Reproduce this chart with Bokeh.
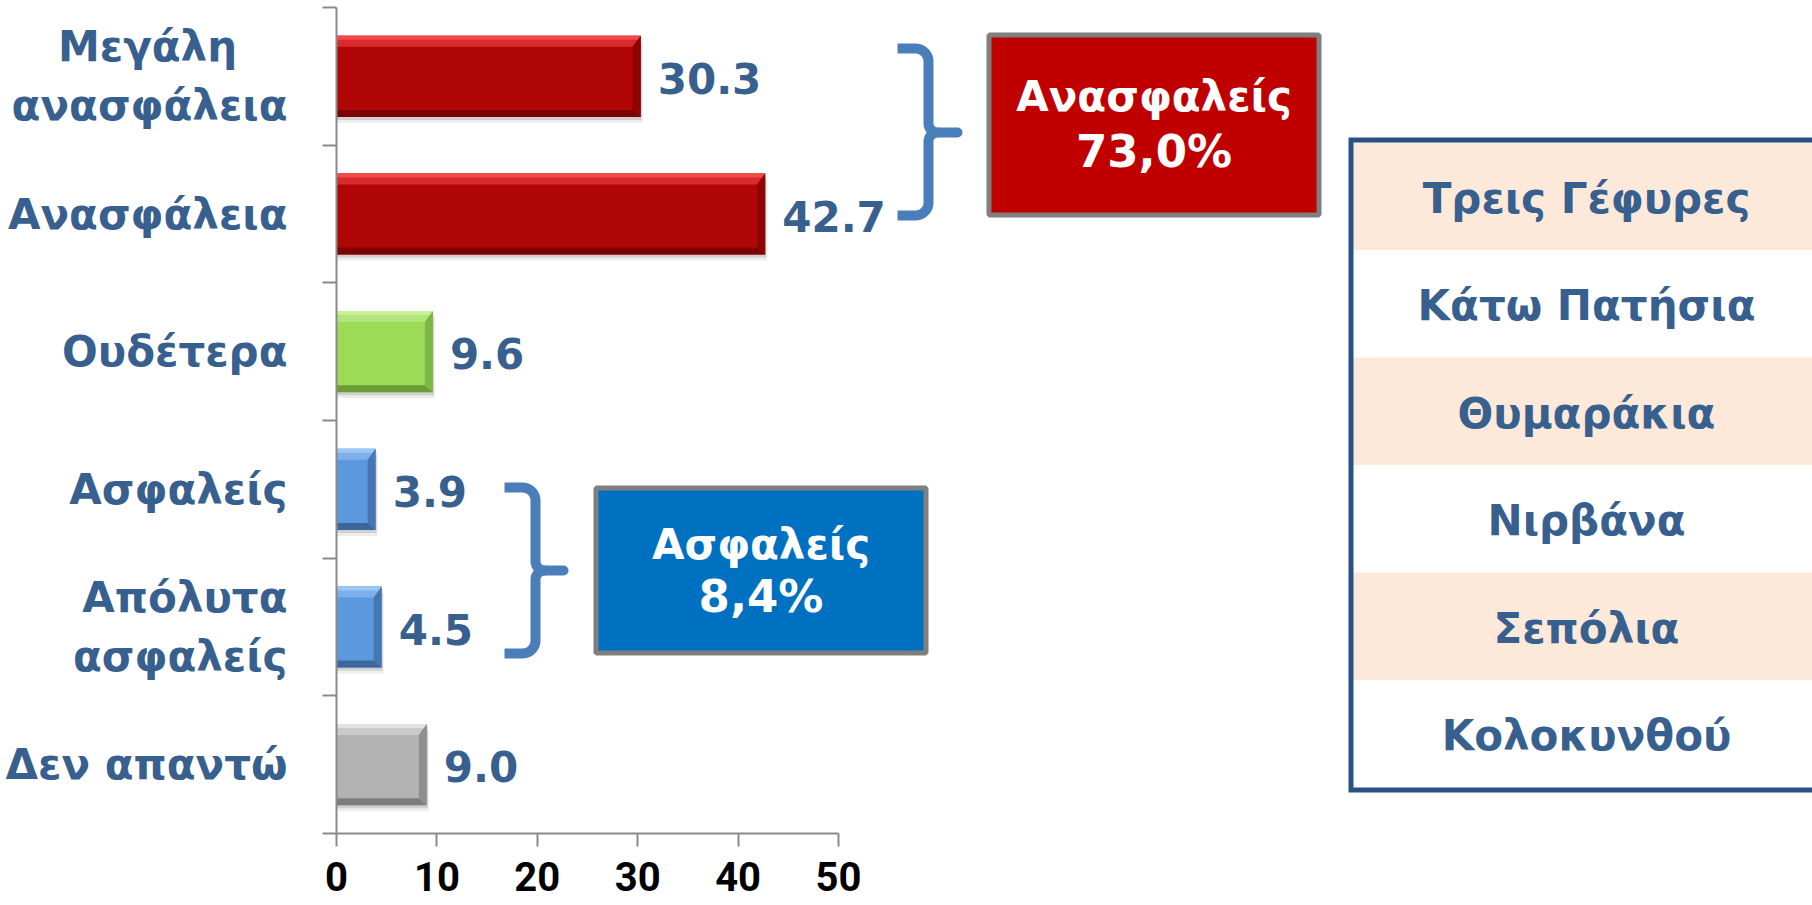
import numpy as np
from bokeh.plotting import figure
from bokeh.models import Range1d, FixedTicker
from bokeh.core.properties import value
from bokeh.embed import file_html
from bokeh.resources import INLINE

# ---------------- data ----------------
categories = ["Μεγάλη\nανασφάλεια", "Ανασφάλεια", "Ουδέτερα", "Ασφαλείς",
              "Απόλυτα\nασφαλείς", "Δεν απαντώ"]
values = [30.3, 42.7, 9.6, 3.9, 4.5, 9.0]
x_ticks = [0, 10, 20, 30, 40, 50]
group_names = ["Ανασφαλείς", "Ασφαλείς"]
group_members = [[0, 1], [3, 4]]
areas = ["Τρεις Γέφυρες", "Κάτω Πατήσια", "Θυμαράκια", "Νιρβάνα", "Σεπόλια", "Κολοκυνθού"]

# ---------------- styles ----------------
bar_kind = ["red", "red", "green", "blue", "blue", "gray"]
PAL = {
    "red":   dict(main="#B10606", top="#D92B2B", hi="#F24A4A", right="#8E0404", bot="#7C0303"),
    "green": dict(main="#9BDB56", top="#B3E57C", hi="#C8F098", right="#7DB644", bot="#6C9E38"),
    "blue":  dict(main="#5B98DE", top="#7DB0EA", hi="#9CC7F4", right="#4677B2", bot="#3C679C"),
    "gray":  dict(main="#B2B2B2", top="#CACACA", hi="#E2E2E2", right="#8E8E8E", bot="#7D7D7D"),
}
BLUE_TXT = "#37608F"
AXIS_GRAY = "#8A8A8A"
FONT = "DejaVu Sans"

# ---------------- layout (pixels) ----------------
W, H = 1812, 905
FL = 336            # frame left
FT = 7              # frame top
FB = 833            # frame bottom
PXU = 10.04         # px per x unit
BAND = (FB - FT) / len(categories)

def dx(px):
    return (px - FL) / PXU

def dy(py):
    return (py - FT) / BAND

n = len(categories)
centers = np.arange(n) + 0.5
bounds = list(np.arange(n + 1).astype(float))
bar_h = 0.59

p = figure(width=W, height=H,
           x_range=Range1d(0, (W - FL) / PXU), y_range=Range1d(n, 0),
           output_backend="svg", toolbar_location=None,
           min_border_left=FL, min_border_right=0, min_border_top=FT,
           min_border_bottom=H - FB)
p.grid.visible = False
p.outline_line_color = None
p.background_fill_color = "white"
p.border_fill_color = "white"

# ----- y axis -----
# centre the short first line of a two-line label over the longer one
pad = "\u2002\u2002\u2009"
labels = [c.split("\n")[0] + pad + "\n" + c.split("\n")[1] if c.startswith("Μεγάλη") else c
          for c in categories]
ya = p.yaxis[0]
ya.ticker = FixedTicker(ticks=list(centers), minor_ticks=bounds)
ya.major_label_overrides = {float(c): lab for c, lab in zip(centers, labels)}
ya.major_tick_out = 0
ya.major_tick_in = 0
ya.minor_tick_out = 14
ya.minor_tick_in = 0
ya.minor_tick_line_color = AXIS_GRAY
ya.minor_tick_line_width = 2
ya.axis_line_color = AXIS_GRAY
ya.axis_line_width = 2
ya.major_label_text_font = FONT
ya.major_label_text_font_style = "bold"
ya.major_label_text_font_size = "42px"
ya.major_label_text_color = BLUE_TXT
ya.major_label_standoff = 35

# ----- x axis -----
xa = p.xaxis[0]
xa.ticker = FixedTicker(ticks=x_ticks)
xa.bounds = (x_ticks[0], x_ticks[-1])
xa.major_tick_out = 13
xa.major_tick_in = 0
xa.minor_tick_out = 0
xa.minor_tick_in = 0
xa.major_tick_line_color = AXIS_GRAY
xa.major_tick_line_width = 2
xa.axis_line_color = AXIS_GRAY
xa.axis_line_width = 2
xa.major_label_text_font = "Roboto"
xa.major_label_text_font_style = "bold"
xa.major_label_text_font_size = "40px"
xa.major_label_text_line_height = 0.7
xa.major_label_text_color = "black"
xa.major_label_standoff = 15

# ----- bars -----
vals = np.array(values)
p.hbar(y=centers + 6 / BAND, left=0, right=vals + 2 / PXU, height=bar_h,
       fill_color="#000000", fill_alpha=0.07, line_color=None)
p.hbar(y=centers + 3 / BAND, left=0, right=vals + 1 / PXU, height=bar_h,
       fill_color="#000000", fill_alpha=0.12, line_color=None)
p.hbar(y=centers, left=0, right=vals, height=bar_h,
       fill_color=[PAL[k]["main"] for k in bar_kind], line_color=None)

bt = 11 / BAND   # top bevel depth
bh = 4 / BAND    # top highlight
bb = 7 / BAND    # bottom bevel depth
br = 8 / PXU     # right bevel depth
xs, ys, cols = [], [], []
for v, c, k in zip(vals, centers, bar_kind):
    top, bot = c - bar_h / 2, c + bar_h / 2
    pal = PAL[k]
    xs.append([0, v, v - br, 0]); ys.append([top, top, top + bt, top + bt]); cols.append(pal["top"])
    xs.append([0, v, v - br * bh / bt, 0]); ys.append([top, top, top + bh, top + bh]); cols.append(pal["hi"])
    xs.append([v, v, v - br, v - br]); ys.append([top, bot, bot - bb, top + bt]); cols.append(pal["right"])
    xs.append([0, v, v - br, 0]); ys.append([bot, bot, bot - bb, bot - bb]); cols.append(pal["bot"])
p.patches(xs=xs, ys=ys, fill_color=cols, line_color=None)

# value labels
p.text(x=vals, y=centers + 2 / BAND, text=[f"{v:.1f}" for v in values], x_offset=17,
       text_font=value(FONT), text_font_style="bold", text_font_size="42px",
       text_color=BLUE_TXT, text_align="left", text_baseline="middle")

# ----- braces -----
def brace(xl, xv, xn, yt, ym, yb, r=13, rm=9):
    t = np.linspace(0, np.pi / 2, 12)
    px, py = [xl], [yt]
    px += list(xv - r + r * np.sin(t)); py += list(yt + r - r * np.cos(t))
    px += list(xv + rm - rm * np.cos(t)); py += list(ym - rm + rm * np.sin(t))
    px += list(xv + rm - rm * np.sin(t)); py += list(ym + rm - rm * np.cos(t))
    px += list(xv - r + r * np.cos(t)); py += list(yb - r + r * np.sin(t))
    px += [xl]; py += [yb]
    return [dx(a) for a in px], [dy(b) for b in py]

BRACE_COL = "#4A7EBB"
for (xl, xv, xn, yt, ym, yb) in [(897, 928, 962, 48, 132, 215),
                                 (504, 535, 568, 487, 570, 653)]:
    bxs, bys = brace(xl, xv, xn, yt, ym, yb)
    p.line(bxs, bys, line_width=10, line_color=BRACE_COL, line_join="round")
    p.line([dx(xv + 9), dx(xn - 5)], [dy(ym), dy(ym)], line_width=10,
           line_color=BRACE_COL, line_cap="round")

# ----- group boxes -----
totals = [sum(values[i] for i in m) for m in group_members]
total_txt = [f"{t:.1f}%".replace(".", ",") for t in totals]
boxes = [(988.5, 1318.5, 34.5, 214.5), (595.5, 925.5, 487.5, 652.5)]
box_fill = ["#C00000", "#0070C0"]
p.quad(left=[dx(b[0]) for b in boxes], right=[dx(b[1]) for b in boxes],
       top=[dy(b[2]) for b in boxes], bottom=[dy(b[3]) for b in boxes],
       fill_color=box_fill, line_color="#7F7F7F", line_width=5)
bcx = [dx((b[0] + b[1]) / 2) for b in boxes]
p.text(x=bcx, y=[dy(96), dy(544)], text=group_names,
       text_font=value(FONT), text_font_style="bold", text_font_size="42px",
       text_color="white", text_align="center", text_baseline="middle")
p.text(x=bcx, y=[dy(151), dy(596)], text=total_txt,
       text_font=value(FONT), text_font_style="bold", text_font_size="45px",
       text_color="white", text_align="center", text_baseline="middle")

# ----- areas table -----
T_LEFT, T_RIGHT, T_TOP, ROW_H = 1353, 1822, 142, 107.5
row_top = [T_TOP + i * ROW_H for i in range(len(areas))]
p.quad(left=dx(T_LEFT), right=dx(T_RIGHT),
       top=[dy(t) for t in row_top], bottom=[dy(t + ROW_H) for t in row_top],
       fill_color=["#FDE9D9" if i % 2 == 0 else "#FFFFFF" for i in range(len(areas))],
       line_color=None)
tb = T_TOP + len(areas) * ROW_H
p.line([dx(T_RIGHT), dx(1350.5), dx(1350.5), dx(T_RIGHT)],
       [dy(139.5), dy(139.5), dy(tb + 2.5), dy(tb + 2.5)],
       line_width=5, line_color="#2A5186", line_join="miter")
p.text(x=dx(1586), y=[dy(t + ROW_H / 2 + 2) for t in row_top], text=areas,
       text_font=value(FONT), text_font_style="bold", text_font_size="42px",
       text_color=BLUE_TXT, text_align="center", text_baseline="middle")

open("out.html", "w").write(file_html(p, INLINE))
